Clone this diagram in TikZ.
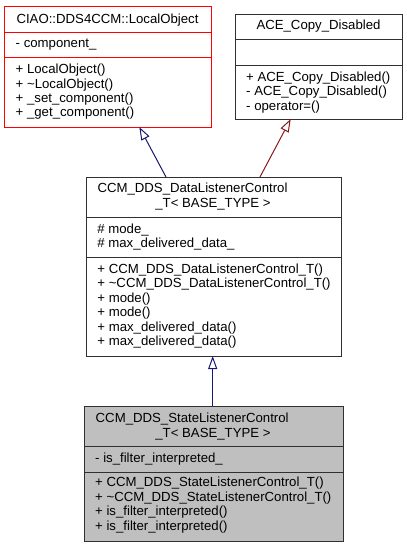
\documentclass[tikz,border=0pt]{standalone}
\usepackage{fontspec}
\setmainfont{Liberation Sans}
\usetikzlibrary{arrows.meta}
\definecolor{edgeblue}{HTML}{191970}
\definecolor{edgered}{HTML}{8B1A1A}
\definecolor{boxgray}{HTML}{BFBFBF}
\definecolor{boxline}{HTML}{303030}
\tikzset{
  umlbox/.style={draw=boxline, line width=1pt, rectangle, inner sep=0pt, anchor=north west},
  sepline/.style={draw=boxline, line width=1pt},
  txt/.style={anchor=base west, inner sep=0pt, font=\fontsize{13.2}{14.5}\selectfont},
  ctxt/.style={anchor=base, inner sep=0pt, font=\fontsize{13.2}{14.5}\selectfont},
  inherit/.style={line width=1pt, -{Triangle[open, length=13pt, width=9pt, line width=1pt]}},
}
\begin{document}
\begin{tikzpicture}[x=1pt, y=-1pt]
\useasboundingbox[fill=white] (0,0) rectangle (407,547);

% Box 1: CIAO::DDS4CCM::LocalObject
\node[umlbox, draw=red, minimum width=207pt, minimum height=121pt] (lo) at (4,6) {};
\draw[sepline, draw=red] (4,32) -- (211,32);
\draw[sepline, draw=red] (4,57) -- (211,57);
\node[ctxt] (lo1) at (107.5,23.3) {CIAO::DDS4CCM::LocalObject};
\node[txt] (lo2) at (15.5,47.7) {- component\_};
\node[txt] (lo3) at (15.5,73.7) {+ LocalObject()};
\node[txt] (lo4) at (15.5,88.1) {+ \textasciitilde LocalObject()};
\node[txt] (lo5) at (15.5,102.5) {+ \_set\_component()};
\node[txt] (lo6) at (15.5,116.9) {+ \_get\_component()};

% Box 2: ACE_Copy_Disabled
\node[umlbox, minimum width=167pt, minimum height=105pt] (acd) at (235,14) {};
\draw[sepline] (235,39) -- (402,39);
\draw[sepline] (235,65) -- (402,65);
\node[ctxt] (acd1) at (318.5,29.3) {ACE\_Copy\_Disabled};
\node[txt] (acd2) at (246,81.7) {+ ACE\_Copy\_Disabled()};
\node[txt] (acd3) at (246,95.9) {- ACE\_Copy\_Disabled()};
\node[txt] (acd4) at (246,110.1) {- operator=()};

% Box 3: CCM_DDS_DataListenerControl_T
\node[umlbox, minimum width=255pt, minimum height=179pt] (dlc) at (86,177) {};
\draw[sepline] (86,217) -- (341,217);
\draw[sepline] (86,257) -- (341,257);
\node[txt] (dlc1) at (97.3,192.7) {CCM\_DDS\_DataListenerControl};
\node[ctxt] (dlc2) at (213,207.7) {\_T< BASE\_TYPE >};
\node[txt] (dlc3) at (97.2,233.3) {\# mode\_};
\node[txt] (dlc4) at (97.2,247.7) {\# max\_delivered\_data\_};
\node[txt] (dlc5) at (97.2,273.3) {+ CCM\_DDS\_DataListenerControl\_T()};
\node[txt] (dlc6) at (97.2,287.8) {+ \textasciitilde CCM\_DDS\_DataListenerControl\_T()};
\node[txt] (dlc7) at (97.2,302.3) {+ mode()};
\node[txt] (dlc8) at (97.2,316.8) {+ mode()};
\node[txt] (dlc9) at (97.2,331.3) {+ max\_delivered\_data()};
\node[txt] (dlc10) at (97.2,345.8) {+ max\_delivered\_data()};

% Box 4: CCM_DDS_StateListenerControl_T
\node[umlbox, fill=boxgray, minimum width=259pt, minimum height=135pt] (slc) at (84,406) {};
\draw[sepline] (84,446) -- (343,446);
\draw[sepline] (84,472) -- (343,472);
\node[txt] (slc1) at (95.5,422) {CCM\_DDS\_StateListenerControl};
\node[ctxt] (slc2) at (213,437.3) {\_T< BASE\_TYPE >};
\node[txt] (slc3) at (95,462.7) {- is\_filter\_interpreted\_};
\node[txt] (slc4) at (95,486.7) {+ CCM\_DDS\_StateListenerControl\_T()};
\node[txt] (slc5) at (95,501.2) {+ \textasciitilde CCM\_DDS\_StateListenerControl\_T()};
\node[txt] (slc6) at (95,515.7) {+ is\_filter\_interpreted()};
\node[txt] (slc7) at (95,530.2) {+ is\_filter\_interpreted()};

% Connectors
\coordinate (e1s) at (166,177);
\coordinate (e1t) at (139.3,127);
\coordinate (e2s) at (260,177);
\coordinate (e2t) at (290.7,119);
\coordinate (e3s) at (212.7,406);
\coordinate (e3t) at (212.7,356);
\draw[inherit, draw=edgeblue] (e1s) -- (e1t);
\draw[inherit, draw=edgered] (e2s) -- (e2t);
\draw[inherit, draw=edgeblue] (e3s) -- (e3t);
\end{tikzpicture}
\end{document}
